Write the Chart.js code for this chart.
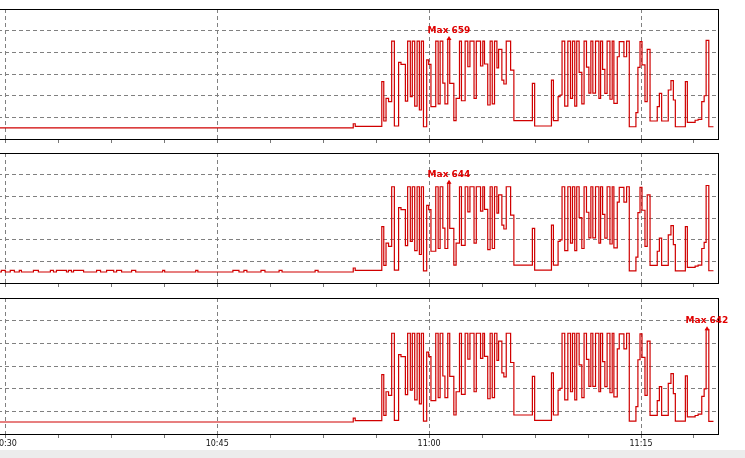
<!DOCTYPE html>
<html>
<head>
<meta charset="utf-8">
<script src="https://cdn.jsdelivr.net/npm/chart.js@4/dist/chart.umd.min.js"></script>
<style>
  body { margin: 0; background: #fff; width: 745px; height: 458px; overflow: hidden; position: relative; }
  canvas { position: absolute; left: -40px; }
  #strip { position: absolute; left: 0; top: 450px; width: 745px; height: 8px; background: #ececec; }
</style>
</head>
<body>
<canvas id="c1" width="785" height="144" style="top:0px"></canvas>
<canvas id="c2" width="785" height="145" style="top:144px"></canvas>
<canvas id="c3" width="785" height="161" style="top:289px"></canvas>
<div id="strip"></div>
<script>
// minutes after 10:00, each value holds until the next time
var times = [
  27.5, 29.72, 30.00, 30.35, 30.64, 30.99, 31.14, 31.99, 32.34, 33.19,
  33.41, 33.62, 34.33, 34.47, 34.68, 34.83, 35.54, 36.46, 36.74, 37.17,
  37.67, 37.88, 38.23, 38.94, 39.23, 41.14, 41.28, 43.48, 43.63, 46.11,
  46.54, 46.89, 47.10, 48.10, 48.38, 49.38, 49.59, 51.93, 52.14,
  54.63, 54.77, 56.65, 56.79, 56.95, 57.13, 57.35, 57.54, 57.84, 58.01,
  58.32, 58.48, 58.67, 58.81, 58.98, 59.15, 59.31, 59.45, 59.60, 59.83,
  59.97, 60.13, 60.47, 60.64, 60.78, 60.97, 61.12, 61.32, 61.46, 61.75,
  61.91, 62.15, 62.29, 62.55, 62.74, 62.89, 63.18, 63.34, 63.64, 63.80,
  63.92, 64.15, 64.32, 64.47, 64.63, 64.80, 64.92, 65.15, 65.29, 65.46,
  65.77, 66.00, 67.31, 67.47, 68.66, 68.80, 69.13, 69.27, 69.41, 69.60,
  69.82, 70.01, 70.15, 70.31, 70.45, 70.62, 70.81, 70.97, 71.14, 71.31,
  71.45, 71.59, 71.78, 72.02, 72.14, 72.28, 72.44, 72.60, 72.80, 72.96,
  73.08, 73.32, 73.46, 73.79, 73.98, 74.17, 74.64, 74.78, 74.93, 75.07,
  75.28, 75.44, 75.64, 76.15, 76.30, 76.46, 76.93, 77.12, 77.29, 77.43,
  78.14, 78.28, 78.83, 79.04, 79.30, 79.47, 79.61, 79.80, 80.13
];

var cpu1 = [
  73, 73, 73, 73, 73, 73, 73, 73, 73, 73,
  73, 73, 73, 73, 73, 73, 73, 73, 73, 73,
  73, 73, 73, 73, 73, 73, 73, 73, 73, 73,
  73, 73, 73, 73, 73, 73, 73, 73, 73,
  101, 84, 379, 119, 269, 247, 648, 86, 507, 494,
  251, 648, 280, 648, 218, 648, 192, 648, 81, 523,
  494, 214, 648, 232, 648, 370, 232, 659, 368, 121,
  269, 648, 253, 648, 478, 648, 269, 648, 483, 648,
  496, 225, 648, 232, 648, 470, 593, 390, 364, 648,
  456, 121, 368, 86, 390, 121, 280, 291, 648, 218,
  648, 269, 648, 218, 648, 441, 232, 648, 476, 304,
  648, 304, 648, 269, 648, 461, 302, 648, 263, 648,
  236, 544, 644, 544, 648, 81, 174, 474, 644, 490,
  247, 593, 119, 214, 302, 119, 324, 386, 258, 81,
  379, 110, 124, 130, 247, 286, 652, 81, 81
];

var cpu2 = [
  71, 82, 71, 82, 71, 82, 71, 82, 71, 82,
  71, 82, 71, 82, 71, 82, 71, 82, 71, 82,
  71, 82, 71, 82, 71, 82, 71, 82, 71, 82,
  71, 82, 71, 82, 71, 82, 71, 82, 71,
  97, 81, 364, 114, 258, 237, 622, 83, 487, 474,
  241, 622, 269, 622, 209, 622, 184, 622, 78, 502,
  474, 205, 622, 223, 622, 355, 223, 644, 353, 116,
  258, 622, 243, 622, 459, 622, 258, 622, 464, 622,
  476, 216, 622, 223, 622, 451, 569, 374, 349, 622,
  438, 116, 353, 83, 374, 116, 269, 279, 622, 209,
  622, 258, 622, 209, 622, 423, 223, 622, 457, 292,
  622, 292, 622, 258, 622, 443, 290, 622, 252, 622,
  227, 522, 618, 522, 622, 78, 167, 455, 618, 470,
  237, 569, 114, 205, 290, 114, 311, 371, 248, 78,
  364, 101, 109, 116, 223, 263, 630, 79, 79
];

var cpu3 = [
  74, 74, 74, 74, 74, 74, 74, 74, 74, 74,
  74, 74, 74, 74, 74, 74, 74, 74, 74, 74,
  74, 74, 74, 74, 74, 74, 74, 74, 74, 74,
  74, 74, 74, 74, 74, 74, 74, 74, 74,
  98, 82, 366, 115, 260, 238, 620, 84, 488, 476,
  242, 620, 270, 620, 210, 620, 186, 620, 79, 504,
  476, 206, 620, 224, 620, 357, 224, 620, 355, 117,
  260, 620, 244, 620, 461, 620, 260, 620, 466, 620,
  478, 217, 620, 224, 620, 453, 571, 376, 351, 620,
  440, 117, 355, 84, 376, 117, 270, 281, 620, 210,
  620, 260, 620, 210, 620, 425, 224, 620, 459, 293,
  620, 293, 620, 260, 620, 445, 291, 620, 254, 620,
  228, 524, 616, 524, 620, 79, 168, 457, 616, 472,
  238, 571, 115, 206, 291, 115, 312, 372, 249, 79,
  358, 105, 114, 122, 232, 278, 642, 78, 78
];

var majorTicks = [30, 45, 60, 75];
var tickLabels = ['10:30', '10:45', '11:00', '11:15'];
var yMax = [860, 840, 837];

var panels = [
  { id: 'c1', values: cpu1, ymax: yMax[0], axisH: 5, labels: false },
  { id: 'c2', values: cpu2, ymax: yMax[1], axisH: 6, labels: false },
  { id: 'c3', values: cpu3, ymax: yMax[2], axisH: 16, labels: true }
];

// black box round the plot area and the "Max" marker
var framePlugin = {
  id: 'frame',
  afterDraw: function (chart) {
    var a = chart.chartArea, ctx = chart.ctx;
    ctx.save();
    ctx.strokeStyle = '#000';
    ctx.lineWidth = 1;
    ctx.strokeRect(a.left + 0.5, a.top + 0.5, a.right - a.left, a.bottom - a.top);

    var pts = chart.data.datasets[0].data, meta = chart.getDatasetMeta(0), iMax = 0;
    for (var i = 1; i < pts.length; i++) {
      if (pts[i].y > pts[iMax].y) iMax = i;
    }
    var p = meta.data[iMax], q = meta.data[iMax + 1] || p;
    var x = Math.round((p.x + q.x) / 2), y = p.y;
    ctx.fillStyle = '#e00000';
    ctx.beginPath();
    ctx.moveTo(x, y - 3.5);
    ctx.lineTo(x - 2.5, y + 0.5);
    ctx.lineTo(x + 2.5, y + 0.5);
    ctx.closePath();
    ctx.fill();
    ctx.font = 'bold 9px "DejaVu Sans"';
    ctx.textAlign = 'center';
    ctx.textBaseline = 'alphabetic';
    ctx.fillText('Max ' + pts[iMax].y, x, y - 6.5);
    ctx.restore();
  }
};

panels.forEach(function (p) {
  new Chart(document.getElementById(p.id), {
    type: 'line',
    data: {
      datasets: [{
        data: times.map(function (t, i) { return { x: t, y: p.values[i] }; }),
        borderColor: '#d00000',
        borderWidth: 1.2,
        pointRadius: 0,
        stepped: true,
        fill: false
      }]
    },
    options: {
      responsive: false,
      animation: false,
      layout: { padding: { left: 10, right: 27, top: 9, bottom: 0 } },
      plugins: { legend: { display: false }, tooltip: { enabled: false } },
      scales: {
        x: {
          type: 'linear',
          min: 27.5,
          max: 80.45,
          afterFit: function (s) { s.height = p.axisH; },
          afterBuildTicks: function (s) {
            var t = [];
            for (var v = 30; v <= 80.45; v += 3.75) t.push({ value: v });
            s.ticks = t;
          },
          grid: {
            color: function (c) {
              return c.tick && majorTicks.indexOf(c.tick.value) >= 0 ? '#808080' : 'rgba(0,0,0,0)';
            },
            tickColor: '#777',
            tickLength: 4
          },
          border: { display: false, dash: [4, 3] },
          ticks: {
            display: p.labels,
            autoSkip: false,
            maxRotation: 0,
            padding: 1,
            color: '#111',
            font: { family: 'DejaVu Sans', size: 8 },
            callback: function (v) {
              var k = majorTicks.indexOf(v);
              return k >= 0 ? tickLabels[k] : '';
            }
          }
        },
        y: {
          min: 0,
          max: p.ymax,
          afterFit: function (s) { s.width = 0; },
          afterBuildTicks: function (s) {
            s.ticks = [1, 2, 3, 4, 5].map(function (k) { return { value: p.ymax * k / 6 }; });
          },
          grid: { color: '#808080', drawTicks: false },
          border: { display: false, dash: [4, 3] },
          ticks: { display: false }
        }
      }
    },
    plugins: [framePlugin]
  });
});
</script>
</body>
</html>
